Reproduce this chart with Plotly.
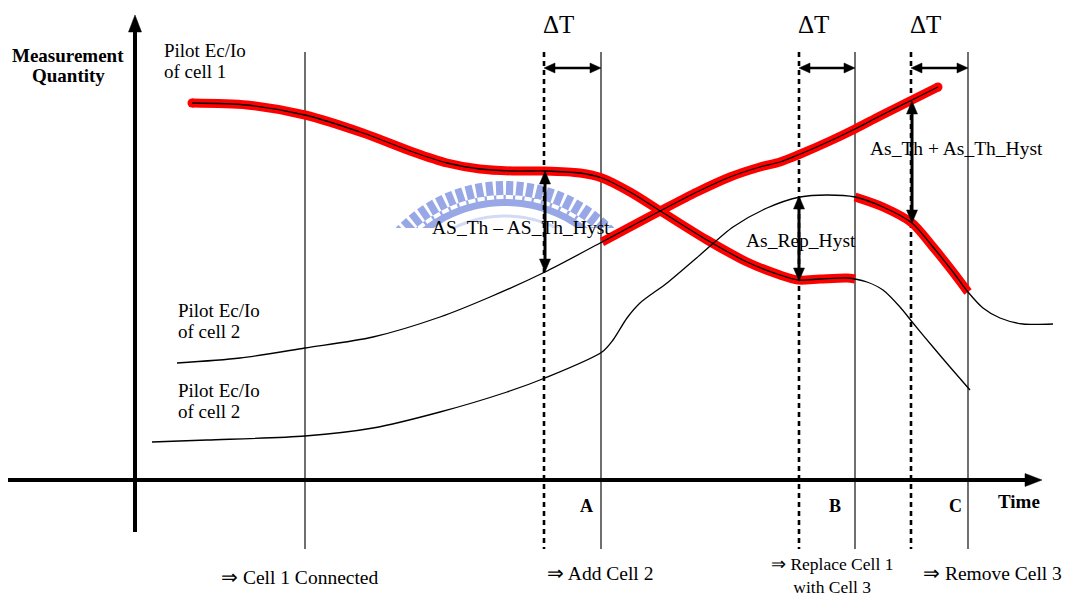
import numpy as np
import plotly.graph_objects as go

W, H = 1070, 598
OFF = 8  # page body margin compensation

# ---- curve data (drawing coordinates: x = time, y = screen row) ----
cell1_x = [192, 247, 305, 363, 413, 447, 480, 513, 545, 580, 602, 630, 662, 707, 747, 780, 798, 820, 847, 855,
           867, 883, 900, 913, 933, 950, 970]
cell1_y = [103, 105, 115, 133, 152, 163, 169, 171, 171, 173, 178, 192, 212, 240, 262, 275, 280, 279, 278, 279,
           282, 290, 307, 323, 347, 367, 390]
cell1_red = (192, 855)

cell2_x = [177, 240, 305, 373, 440, 490, 545, 602, 630, 662, 697, 730, 760, 780, 798, 830, 855, 880, 912, 938]
cell2_y = [363, 358, 348, 337, 317, 297, 272, 242, 227, 210, 192, 177, 167, 162, 155, 141, 129, 116, 100, 87]
cell2_red = (602, 938)

cell3_x = [152, 207, 305, 373, 440, 507, 545, 602, 613, 627, 640, 667, 700, 733, 767, 800, 827, 855,
           883, 912, 933, 953, 968, 983, 1000, 1023, 1053]
cell3_y = [442, 440, 436, 428, 412, 392, 378, 352, 340, 318, 303, 283, 255, 227, 208, 197, 195, 197,
           207, 223, 247, 272, 292, 308, 318, 324, 324]
cell3_red = (855, 968)

# event times (vertical markers)
solid_times = [305, 601, 855, 968]
dashed_times = [544, 799, 911]
delta_pairs = [(544, 601), (799, 855), (911, 968)]
delta_labels = ["ΔT", "ΔT", "ΔT"]
zone_labels = ["A", "B", "C"]
zone_x = [586, 835, 955]

# hysteresis double arrows: (x, y_top, y_bottom)
hyst = [(545, 171, 272), (799, 196, 281), (912, 101, 223)]

FONT = "Liberation Serif"
fig = go.Figure()


def add_line(xs, ys, width, color, dash="solid", shape="linear"):
    fig.add_trace(go.Scatter(x=xs, y=ys, mode="lines", hoverinfo="skip", showlegend=False,
                             line=dict(width=width, color=color, dash=dash, shape=shape, smoothing=0.8)))


def add_tri(tx, ty, dx, dy, L, Wd):
    bx, by = tx - L * dx, ty - L * dy
    px, py = -dy, dx
    xs = [tx, bx + Wd / 2 * px, bx - Wd / 2 * px, tx]
    ys = [ty, by + Wd / 2 * py, by - Wd / 2 * py, ty]
    fig.add_trace(go.Scatter(x=xs, y=ys, mode="lines", fill="toself", fillcolor="black",
                             line=dict(width=0.5, color="black"), hoverinfo="skip", showlegend=False))


# ---- watermark (decorative gear arc) ----
cx, cy = 505, 332
path = ""
for th in np.arange(np.radians(28), np.radians(152), 10.5 / 150):
    pts = []
    for r, s in [(133, -1), (151, -1), (151, 1), (133, 1)]:
        a = th + s * 3.6 / r
        pts.append((cx + r * np.cos(a), cy - r * np.sin(a)))
    path += "M %.1f %.1f " % pts[0] + " ".join("L %.1f %.1f" % p for p in pts[1:]) + " Z "
angs = np.linspace(np.radians(28), np.radians(152), 60)
outer = [(cx + 137 * np.cos(a), cy - 137 * np.sin(a)) for a in angs]
inner = [(cx + 126 * np.cos(a), cy - 126 * np.sin(a)) for a in angs[::-1]]
band = outer + inner
path += "M %.1f %.1f " % band[0] + " ".join("L %.1f %.1f" % p for p in band[1:]) + " Z"
fig.add_shape(type="path", path=path, xref="x", yref="y", fillcolor="#98a7e6",
              line=dict(width=0), layer="below")
ring = [(cx + 116 * np.cos(a), cy - 116 * np.sin(a)) for a in angs]
fig.add_shape(type="path", path="M %.1f %.1f " % ring[0] + " ".join("L %.1f %.1f" % p for p in ring[1:]),
              xref="x", yref="y", line=dict(width=3, color="#d3daf4"), layer="below")
fig.add_shape(type="rect", x0=370, x1=640, y0=228, y1=340, xref="x", yref="y",
              fillcolor="white", line=dict(width=0), layer="below")

# ---- vertical event lines ----
vx, vy = [], []
for t in solid_times:
    vx += [t, t, None]
    vy += [52, 549, None]
add_line(vx, vy, 1.3, "#222222")
dx_, dy_ = [], []
for t in dashed_times:
    dx_ += [t, t, None]
    dy_ += [52, 549, None]
add_line(dx_, dy_, 2.6, "black", dash="5px,4px")

# ---- axes ----
add_line([8, 1028], [480, 480], 4, "black")
add_tri(1042, 480, 1, 0, 17, 13)
add_line([135, 135], [532, 28], 4, "black")
add_tri(135, 15, 0, -1, 17, 13)


# ---- curves: red highlighted parts, then black centre lines ----
def red_part(xs, ys, rng):
    pts = [(x, y) for x, y in zip(xs, ys) if rng[0] <= x <= rng[1]]
    return [p[0] for p in pts], [p[1] for p in pts]


for xs, ys, rng in [(cell1_x, cell1_y, cell1_red), (cell2_x, cell2_y, cell2_red), (cell3_x, cell3_y, cell3_red)]:
    rx, ry = red_part(xs, ys, rng)
    add_line(rx, ry, 9, "#ff0000", shape="spline")
fig.add_trace(go.Scatter(x=[cell1_x[0], cell2_x[-1]], y=[cell1_y[0], cell2_y[-1]], mode="markers",
                         marker=dict(size=9, color="#ff0000"), hoverinfo="skip", showlegend=False))
for xs, ys in [(cell1_x, cell1_y), (cell2_x, cell2_y), (cell3_x, cell3_y)]:
    add_line(xs, ys, 1.3, "black", shape="spline")

# ---- ΔT arrows ----
for (a, b) in delta_pairs:
    add_line([a + 8, b - 8], [68, 68], 2.5, "black")
    add_tri(a, 68, -1, 0, 11, 10)
    add_tri(b, 68, 1, 0, 11, 10)

# ---- hysteresis arrows ----
for (x, yt, yb) in hyst:
    add_line([x, x], [yt + 10, yb - 10], 3, "black")
    add_tri(x, yt, 0, -1, 13, 11)
    add_tri(x, yb, 0, 1, 13, 11)


def txt(x, y, s, size=19.5, xanchor="center", bold=False, align="center"):
    fig.add_annotation(x=x, y=y, xref="x", yref="y", text=("<b>%s</b>" % s) if bold else s,
                       showarrow=False, xanchor=xanchor, yanchor="middle", align=align, borderpad=0,
                       font=dict(family=FONT, size=size, color="black"))


txt(68, 55, "Measurement", size=19, bold=True)
txt(68, 75, "Quantity", size=19, bold=True)
txt(163, 50, "Pilot Ec/Io", size=19, xanchor="left")
txt(163, 71, "of cell 1", size=19, xanchor="left")
txt(177, 310, "Pilot Ec/Io", size=19, xanchor="left")
txt(177, 331, "of cell 2", size=19, xanchor="left")
txt(177, 390, "Pilot Ec/Io", size=19, xanchor="left")
txt(177, 411, "of cell 2", size=19, xanchor="left")
for (a, b), lab in zip(delta_pairs, delta_labels):
    txt((a + b) / 2 - 14, 24, lab, size=25)
txt(521, 227, "AS_Th – AS_Th_Hyst")
txt(801, 240, "As_Rep_Hyst")
txt(869, 148, "As_Th + As_Th_Hyst", xanchor="left")
for zx, zl in zip(zone_x, zone_labels):
    txt(zx, 506, zl, size=18, bold=True)
txt(1019, 501, "Time", size=19, bold=True)
txt(300, 577, "⇒ Cell 1 Connected")
txt(546, 573, "⇒ Add Cell 2", xanchor="left")
txt(770, 575, "⇒ Replace Cell 1<br>with Cell 3", size=17.5, xanchor="left")
txt(922, 573, "⇒ Remove Cell 3", xanchor="left")

fig.update_layout(width=W, height=H, margin=dict(l=0, r=0, t=0, b=0),
                  paper_bgcolor="white", plot_bgcolor="white", showlegend=False,
                  xaxis=dict(range=[OFF, W + OFF], visible=False, fixedrange=True),
                  yaxis=dict(range=[H + OFF, OFF], visible=False, fixedrange=True))
fig.write_html("out.html")
